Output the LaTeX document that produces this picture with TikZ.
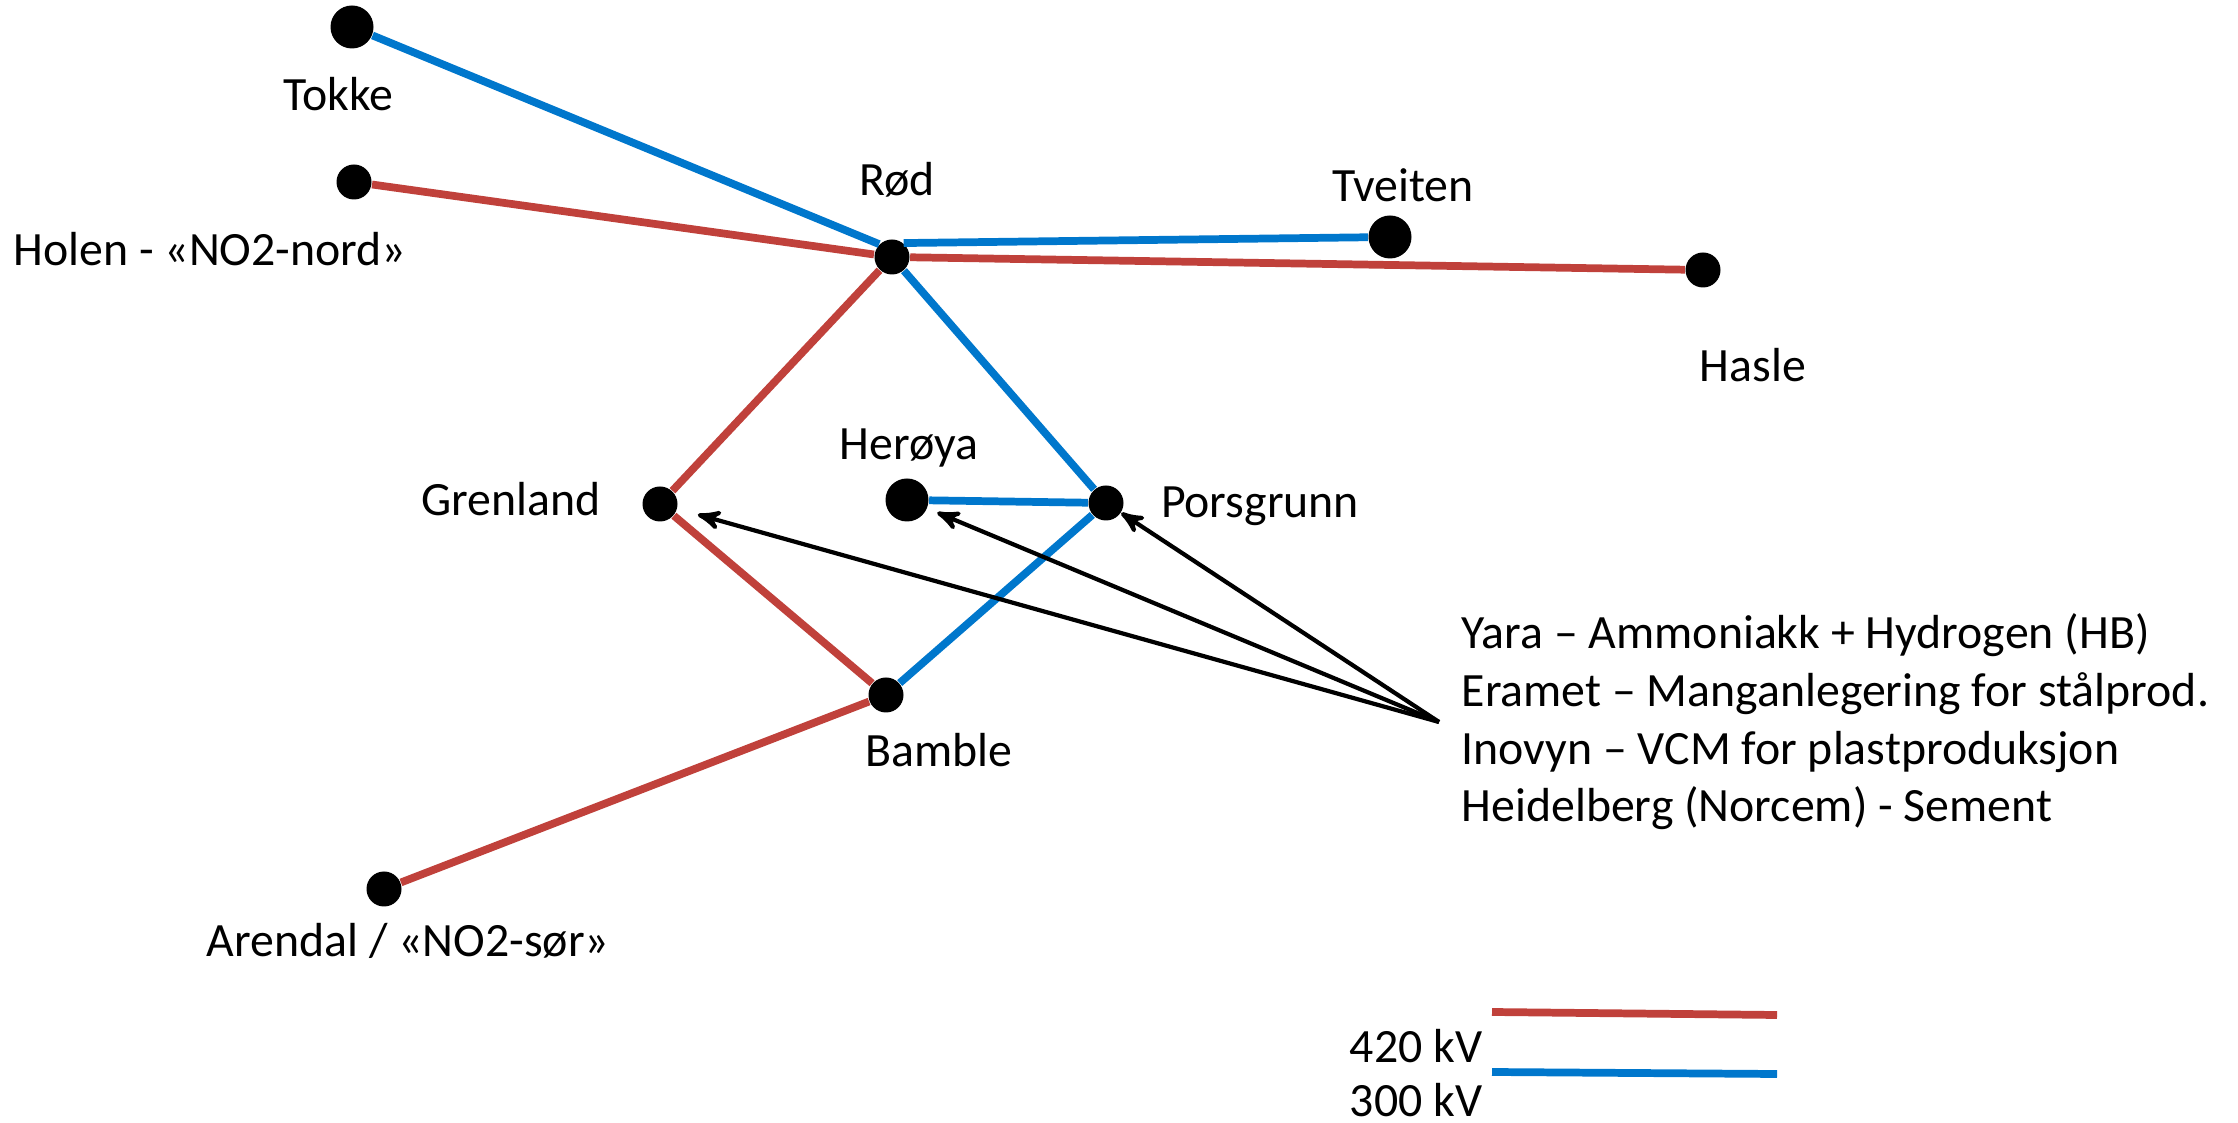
\documentclass[tikz,border=0pt]{standalone}
\usepackage{fontspec}
\setmainfont{Carlito}
\usetikzlibrary{arrows}

\definecolor{kvred}{RGB}{192,65,59}
\definecolor{kvblue}{RGB}{0,119,204}

\begin{document}
\begin{tikzpicture}[x=0.1mm,y=-0.1mm,>=stealth',
    stn/.style={circle,fill=black,inner sep=0pt,minimum size=3.5mm},
    bigstn/.style={stn,minimum size=4.3mm},
    lbl/.style={font=\fontsize{13.6}{16.5}\selectfont,inner sep=0pt,anchor=base},
    txt/.style={lbl,anchor=base west},
    l420/.style={draw=kvred,line width=2.2pt},
    l300/.style={draw=kvblue,line width=2.2pt},
    pointer/.style={->,draw=black,line width=1.2pt}]
      \useasboundingbox (0,0) rectangle (2238,1123);

      \node[bigstn] (tokke)     at (352,27)   {};
      \node[stn]    (holen)     at (354,182)  {};
      \node[stn]    (rod)       at (892,257)  {};
      \node[bigstn] (tveiten)   at (1390,237) {};
      \node[stn]    (hasle)     at (1703,270) {};
      \node[stn]    (grenland)  at (660,504)  {};
      \node[bigstn] (heroya)    at (907,500)  {};
      \node[stn]    (porsgrunn) at (1106,503) {};
      \node[stn]    (bamble)    at (886,695)  {};
      \node[stn]    (arendal)   at (384,889)  {};

      \node[lbl] (tokkeL)     at (338,111)  {Tokke};
      \node[lbl] (holenL)     at (210,266)  {Holen - «NO2-nord»};
      \node[lbl] (rodL)       at (897,196)  {Rød};
      \node[lbl] (tveitenL)   at (1403,202) {Tveiten};
      \node[lbl] (hasleL)     at (1753,382) {Hasle};
      \node[lbl] (heroyaL)    at (909,460)  {Herøya};
      \node[lbl] (grenlandL)  at (511,516)  {Grenland};
      \node[lbl] (porsgrunnL) at (1260,518) {Porsgrunn};
      \node[lbl] (bambleL)    at (939,767)  {Bamble};
      \node[lbl] (arendalL)   at (408,957)  {Arendal / «NO2-sør»};

      \node[txt] (yara)       at (1461,649) {Yara – Ammoniakk + Hydrogen (HB)};
      \node[txt] (eramet)     at (1461,707) {Eramet – Manganlegering for stålprod.};
      \node[txt] (inovyn)     at (1461,765) {Inovyn – VCM for plastproduksjon};
      \node[txt] (heidelberg) at (1461,822) {Heidelberg (Norcem) - Sement};
      \coordinate (fan) at (1439,722);

      \coordinate (r1) at (1492,1012);
      \coordinate (r2) at (1777,1015);
      \coordinate (b1) at (1492,1072);
      \coordinate (b2) at (1777,1074);
      \node[lbl] (kv420) at (1416,1062) {420 kV};
      \node[lbl] (kv300) at (1416,1117) {300 kV};

      \path (tokke)     edge [l300] (rod.135)
            (holen)     edge [l420] (rod)
            (rod.50)    edge [l300] (tveiten)
            (rod)       edge [l420] (hasle)
                        edge [l420] (grenland)
                        edge [l300] (porsgrunn)
            (heroya)    edge [l300] (porsgrunn)
            (grenland)  edge [l420] (bamble)
            (porsgrunn) edge [l300] (bamble)
            (bamble)    edge [l420] (arendal)
            (r1)        edge [l420] (r2)
            (b1)        edge [l300] (b2);

      \path (fan) edge [pointer,shorten >=6pt] (grenland)
                  edge [pointer,shorten >=3pt] (heroya)
                  edge [pointer]               (porsgrunn);
    \end{tikzpicture}
\end{document}
